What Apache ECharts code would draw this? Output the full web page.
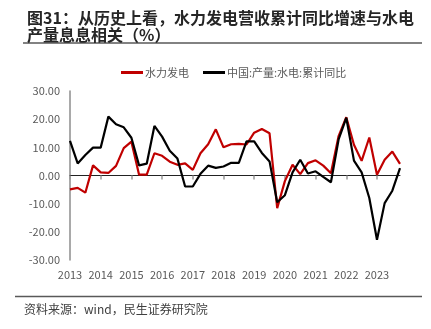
<!DOCTYPE html>
<html>
<head>
<meta charset="utf-8">
<script src="https://cdn.jsdelivr.net/npm/echarts@6/dist/echarts.min.js"></script>
<style>
  html, body { margin: 0; padding: 0; background: #fff; }
  #chart { width: 431px; height: 329px; }
</style>
</head>
<body>
<div id="chart"></div>
<script>
// Quarterly periods, 2013Q1 – 2023Q4
const quarters = [
  '2013-03','2013-06','2013-09','2013-12',
  '2014-03','2014-06','2014-09','2014-12',
  '2015-03','2015-06','2015-09','2015-12',
  '2016-03','2016-06','2016-09','2016-12',
  '2017-03','2017-06','2017-09','2017-12',
  '2018-03','2018-06','2018-09','2018-12',
  '2019-03','2019-06','2019-09','2019-12',
  '2020-03','2020-06','2020-09','2020-12',
  '2021-03','2021-06','2021-09','2021-12',
  '2022-03','2022-06','2022-09','2022-12',
  '2023-03','2023-06','2023-09','2023-12'
];

// 水力发电 营收累计同比 (%)
const hydroRevenue = [
  -4.9, -4.4, -6.1, 3.6,
  1.1, 0.9, 3.4, 9.7,
  12.0, 0.3, 0.3, 7.9,
  7.0, 4.9, 3.8, 4.3,
  2.0, 7.9, 11.1, 16.4,
  10.0, 11.1, 11.2, 11.0,
  15.2, 16.5, 15.0, -11.6,
  -2.0, 3.8, 0.5, 4.4,
  5.4, 3.5, 0.8, 14.0,
  20.7, 10.9, 5.2, 13.5,
  0.3, 5.6, 8.5, 4.1
];

// 中国:产量:水电:累计同比 (%)
const hydroOutput = [
  12.3, 4.3, 7.3, 9.9,
  9.9, 20.9, 18.2, 17.1,
  13.4, 3.6, 4.2, 17.6,
  13.8, 8.8, 6.0, -3.9,
  -3.9, 0.6, 3.5, 2.7,
  3.2, 4.5, 4.5, 12.1,
  12.1, 8.0, 5.0, -9.5,
  -7.0, 1.1, 5.6, 0.7,
  1.5, -0.5, -2.4, 12.8,
  20.5, 5.3, 1.1, -8.0,
  -22.8, -9.8, -5.4, 2.6
];

const seriesNames = ['水力发电', '中国:产量:水电:累计同比'];
const titleText = '图31：从历史上看，水力发电营收累计同比增速与水电\n产量息息相关（%）';
const sourceText = '资料来源：wind，民生证券研究院';

const FONT = '"Noto Sans CJK SC", "Noto Sans", sans-serif';

const chart = echarts.init(document.getElementById('chart'), null, { renderer: 'canvas' });

chart.setOption({
  backgroundColor: '#fff',
  animation: false,
  textStyle: { fontFamily: FONT },
  title: {
    text: titleText,
    left: 22,
    top: 4,
    textStyle: {
      fontFamily: FONT,
      fontSize: 16,
      fontWeight: 'bold',
      color: '#262626',
      lineHeight: 17
    }
  },
  legend: {
    data: seriesNames,
    left: 116,
    top: 62,
    itemWidth: 22,
    itemHeight: 3,
    itemGap: 14,
    icon: 'rect',
    textStyle: { fontFamily: FONT, fontSize: 11, color: '#595959', padding: [0, 0, 0, -3] }
  },
  grid: { left: 70, right: 31, top: 91, bottom: 69, containLabel: false },
  xAxis: [
    {
      type: 'category',
      data: quarters,
      boundaryGap: false,
      axisLine: { onZero: true, lineStyle: { color: '#222', width: 1 } },
      axisTick: { show: true, interval: 3, length: 4, inside: false, lineStyle: { color: '#999', width: 1.5 } },
      axisLabel: { show: false },
      splitLine: { show: false }
    },
    {
      type: 'category',
      data: quarters,
      boundaryGap: false,
      position: 'bottom',
      axisLine: { show: false, onZero: false },
      axisTick: { show: false },
      axisLabel: {
        show: true,
        interval: 3,
        margin: 9,
        fontFamily: FONT,
        fontSize: 11,
        color: '#595959',
        formatter: v => v.slice(0, 4)
      },
      splitLine: { show: false }
    }
  ],
  yAxis: {
    type: 'value',
    min: -30,
    max: 30,
    interval: 10,
    axisLine: { show: true, lineStyle: { color: '#8c8c8c', width: 1.5 } },
    axisTick: { show: false },
    splitLine: { show: false },
    axisLabel: {
      margin: 10,
      fontFamily: FONT,
      fontSize: 11,
      color: '#595959',
      formatter: v => v.toFixed(2)
    }
  },
  series: [
    {
      name: seriesNames[0],
      type: 'line',
      data: hydroRevenue,
      xAxisIndex: 0,
      symbol: 'none',
      color: '#c00000',
      lineStyle: { color: '#c00000', width: 2.2 }
    },
    {
      name: seriesNames[1],
      type: 'line',
      data: hydroOutput,
      xAxisIndex: 0,
      symbol: 'none',
      color: '#000000',
      lineStyle: { color: '#000000', width: 2.2 }
    }
  ],
  graphic: [
    {
      type: 'line',
      shape: { x1: 23, y1: 43, x2: 422, y2: 43 },
      style: { stroke: '#595959', lineWidth: 1.5 }
    },
    {
      type: 'line',
      shape: { x1: 15, y1: 296.5, x2: 422, y2: 296.5 },
      style: { stroke: '#595959', lineWidth: 1.5 }
    },
    {
      type: 'text',
      left: 24,
      top: 303,
      style: { text: sourceText, fontFamily: FONT, fontSize: 12, fill: '#404040' }
    }
  ]
});
</script>
</body>
</html>
